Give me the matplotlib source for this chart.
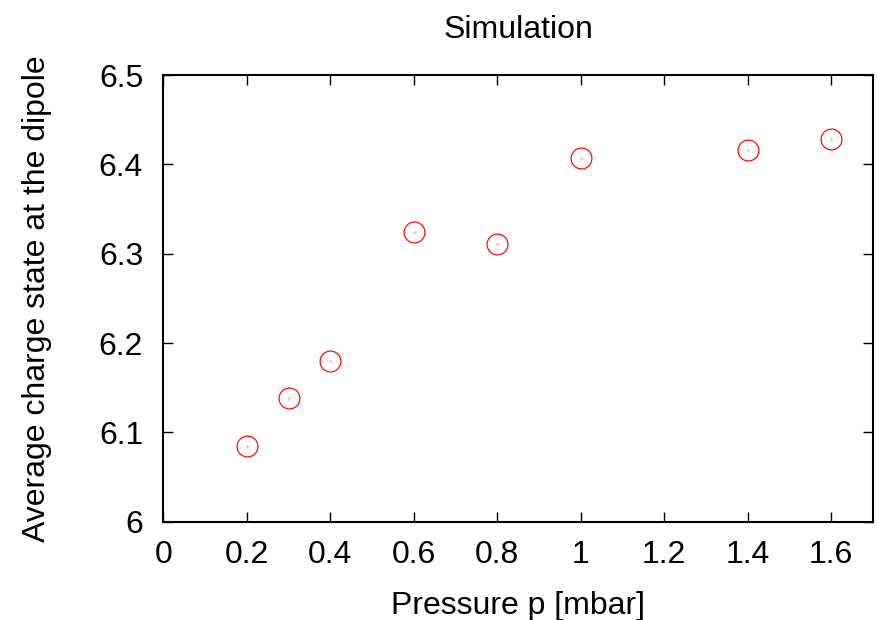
import matplotlib
matplotlib.use("Agg")
import matplotlib.pyplot as plt

plt.rcParams['font.family'] = ['Liberation Sans', 'DejaVu Sans']

pressure = [0.2, 0.3, 0.4, 0.6, 0.8, 1.0, 1.4, 1.6]
charge = [6.085, 6.139, 6.180, 6.324, 6.311, 6.407, 6.416, 6.428]

xticks = [0, 0.2, 0.4, 0.6, 0.8, 1.0, 1.2, 1.4, 1.6]
xticklabels = ["0", "0.2", "0.4", "0.6", "0.8", "1", "1.2", "1.4", "1.6"]
yticks = [6.0, 6.1, 6.2, 6.3, 6.4, 6.5]
yticklabels = ["6", "6.1", "6.2", "6.3", "6.4", "6.5"]

fig = plt.figure(figsize=(8.78, 6.2), dpi=100)
ax = fig.add_axes([0.186, 0.1585, 0.808, 0.7205])

ax.plot(pressure, charge, linestyle="none", marker="o", markersize=15,
        markerfacecolor="none", markeredgecolor="red", markeredgewidth=0.85)
# gnuplot draws a tiny dot in the middle of each circle
ax.plot(pressure, charge, linestyle="none", marker=".", markersize=1.0,
        color="#ff8080")

ax.set_xlim(0, 1.7)
ax.set_ylim(6.0, 6.5)
ax.set_xticks(xticks)
ax.set_xticklabels(xticklabels)
ax.set_yticks(yticks)
ax.set_yticklabels(yticklabels)

ax.tick_params(direction="in", top=True, right=True, length=7.5, width=1.0,
               labelsize=23)
ax.tick_params(axis="x", pad=13)
ax.tick_params(axis="y", pad=14.5)
for s in ax.spines.values():
    s.set_linewidth(1.5)

ax.set_xlabel("Pressure p [mbar]", fontsize=23, labelpad=15)
ax.set_ylabel("Average charge state at the dipole", fontsize=23, labelpad=34)
ax.set_title("Simulation", fontsize=23, pad=27)

fig.savefig("out.png", dpi=100)
